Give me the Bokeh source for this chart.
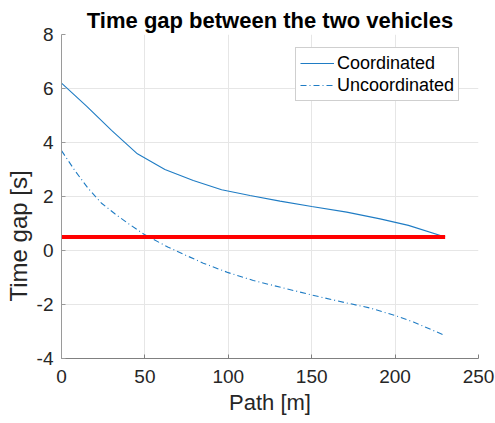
from bokeh.plotting import figure
from bokeh.models import (Range1d, FixedTicker, Legend, LegendItem, Title,
                          PrintfTickFormatter)
from bokeh.embed import file_html
from bokeh.resources import INLINE

# Data
coord_x = [0, 15, 30, 45.5, 62, 79, 96, 113, 131, 150, 171, 191, 208, 230]
coord_y = [6.2, 5.35, 4.45, 3.58, 3.0, 2.59, 2.25, 2.04, 1.83, 1.63, 1.42, 1.17, 0.93, 0.5]

uncoord_x = [0, 8, 16, 24, 32, 40, 50, 64, 85, 100, 115, 135, 155, 170, 185, 200, 211, 230]
uncoord_y = [3.7, 2.96, 2.3, 1.75, 1.36, 1.0, 0.58, 0.12, -0.47, -0.82, -1.11, -1.42,
             -1.72, -1.93, -2.13, -2.41, -2.65, -3.15]

limit_x = [0, 230]
limit_y = [0.5, 0.5]

x_ticks = [0, 50, 100, 150, 200, 250]
y_ticks = [-4, -2, 0, 2, 4, 6, 8]

TITLE = "Time gap between the two vehicles"
XLABEL = "Path [m]"
YLABEL = "Time gap [s]"

FONT = "Liberation Sans"
TXT = "#262626"

p = figure(width=495, height=423, output_backend="svg", toolbar_location=None,
           x_range=Range1d(0, 250), y_range=Range1d(-4, 8),
           min_border_left=61, min_border_right=17, min_border_top=34, min_border_bottom=65)

p.add_layout(Title(text=TITLE, align="center", text_font=FONT, text_font_size="22px",
                   text_font_style="bold", text_color="#000000", standoff=4), "above")

p.outline_line_color = None
p.background_fill_color = "white"
p.border_fill_color = "white"

p.xaxis.ticker = FixedTicker(ticks=x_ticks)
p.yaxis.ticker = FixedTicker(ticks=y_ticks)
p.xgrid.ticker = FixedTicker(ticks=x_ticks)
p.ygrid.ticker = FixedTicker(ticks=y_ticks)
for g in (p.xgrid, p.ygrid):
    g.grid_line_color = "#e6e6e6"
    g.grid_line_width = 1

for ax in (p.xaxis, p.yaxis):
    ax.formatter = PrintfTickFormatter(format="%d")
    ax.major_tick_in = 4
    ax.major_tick_out = 0
    ax.minor_tick_line_color = None
    ax.major_label_text_font = FONT
    ax.major_label_text_font_size = "19px"
    ax.major_label_text_color = TXT
    ax.axis_label_text_font = FONT
    ax.axis_label_text_font_size = "22px"
    ax.axis_label_text_font_style = "normal"
    ax.axis_label_text_color = TXT

p.xaxis.axis_line_color = "#808080"
p.xaxis.major_tick_line_color = "#808080"
p.yaxis.axis_line_color = "#9a9a9a"
p.yaxis.major_tick_line_color = "#9a9a9a"
p.xaxis.major_label_standoff = 11
p.yaxis.major_label_standoff = 8
p.xaxis.axis_label = XLABEL
p.xaxis.axis_label_standoff = 4

# y-axis title, placed along the axis as in the reference
p.add_layout(Title(text=YLABEL, align="left", offset=57, standoff=4,
                   text_font=FONT, text_font_size="24px", text_font_style="normal",
                   text_color=TXT), "left")

BLUE = "#1f7cc4"
r1 = p.line(coord_x, coord_y, line_color=BLUE, line_width=1.1)
r2 = p.line(uncoord_x, uncoord_y, line_color=BLUE, line_width=1.1, line_dash="6 3 1 3")
p.line(limit_x, limit_y, line_color="#ff0000", line_width=4)

legend = Legend(items=[LegendItem(label="Coordinated", renderers=[r1]),
                       LegendItem(label="Uncoordinated", renderers=[r2])],
                location=(234, 257), margin=0, padding=4, spacing=0,
                label_height=22, glyph_height=22, glyph_width=34, label_standoff=3,
                label_text_font=FONT, label_text_font_size="18px", label_text_color="#000000",
                border_line_color="#a0a0a0", border_line_width=1,
                background_fill_color="white", background_fill_alpha=1)
p.add_layout(legend, "center")

open("out.html", "w").write(file_html(p, INLINE))
